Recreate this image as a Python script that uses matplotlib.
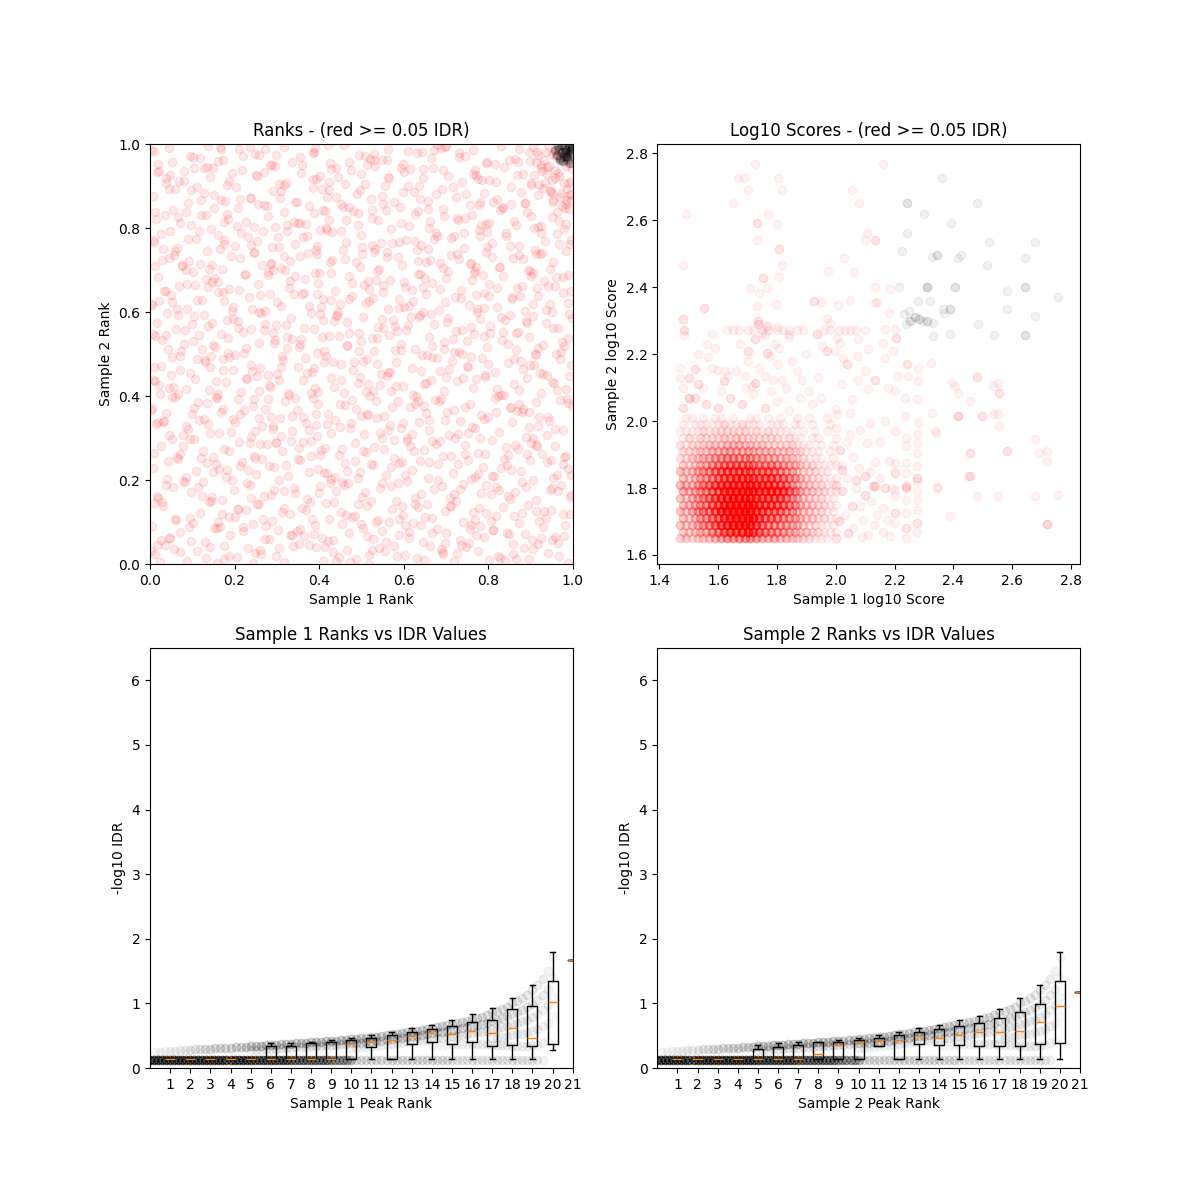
import numpy as np
import matplotlib
matplotlib.use("Agg")
import matplotlib.pyplot as plt

# ---------------------------------------------------------------------------
# Panel 1: normalised ranks (x = sample 1, y = sample 2), per-mille
# ---------------------------------------------------------------------------
rank1_red = [
    12, 87, 143, 205, 261, 318, 377, 432, 488, 541, 603, 662, 718, 775, 829, 884, 941, 990, 35, 112, 176, 233, 297, 352, 409, 466, 519, 578, 631, 690, 748, 802, 858, 917, 968, 57, 158, 249, 338, 447, 556, 647, 736, 823, 907, 24, 392, 694,
    5, 48, 71, 130, 166, 190, 244, 281, 302, 365, 390, 421, 470, 503, 527, 566, 590, 645, 679, 701, 733, 760, 791, 812, 850, 872, 903, 929, 957, 981, 98, 221, 335, 455, 612, 757, 888, 26, 274, 514, 623, 845, 966, 152, 408, 548,
    31, 62, 118, 139, 187, 226, 259, 288, 331, 359, 384, 417, 451, 479, 513, 534, 572, 598, 626, 668, 697, 724, 769, 796, 834, 861, 895, 921, 949, 994, 9, 94, 209, 313, 436, 590, 712, 818, 933, 162, 491, 650, 779, 977, 268,
    18, 55, 96, 125, 171, 199, 236, 270, 305, 342, 371, 403, 440, 468, 501, 545, 581, 607, 641, 673, 709, 741, 783, 819, 847, 879, 912, 946, 972, 997, 77, 147, 318, 425, 522, 690, 806, 951, 238, 586, 863, 16, 459, 734,
    8, 42, 84, 109, 155, 193, 217, 251, 293, 326, 356, 398, 427, 461, 496, 528, 559, 596, 620, 657, 682, 716, 752, 787, 814, 845, 877, 906, 938, 962, 989, 66, 180, 281, 377, 485, 604, 728, 853, 954, 135, 412, 571, 770, 898, 233,
    25, 70, 103, 148, 175, 211, 247, 276, 312, 349, 380, 414, 446, 484, 510, 549, 577, 616, 648, 686, 711, 746, 777, 808, 838, 870, 901, 927, 958, 985, 52, 186, 299, 402, 531, 668, 792, 913, 121, 363, 625, 842, 980, 260, 455,
    14, 46, 91, 127, 163, 202, 238, 266, 307, 336, 368, 395, 437, 474, 506, 538, 568, 609, 637, 661, 699, 729, 762, 799, 826, 856, 889, 919, 944, 976, 79, 196, 291, 419, 545, 660, 781, 896, 33, 248, 476, 707, 920, 593, 143, 392,
    4, 58, 99, 134, 169, 207, 243, 287, 319, 347, 386, 420, 449, 488, 521, 553, 586, 614, 652, 689, 720, 756, 784, 817, 852, 881, 914, 942, 970, 998, 38, 156, 271, 397, 516, 634, 744, 868, 987, 213, 462, 675, 896, 113, 335, 573,
    21, 66, 107, 140, 179, 215, 252, 284, 329, 361, 390, 428, 458, 492, 527, 560, 598, 630, 664, 695, 727, 765, 792, 831, 860, 893, 925, 955, 983, 49, 160, 304, 436, 571, 701, 824, 950, 86, 230, 380, 543, 741, 874, 12, 510, 648,
    10, 53, 95, 131, 172, 200, 239, 279, 315, 351, 383, 416, 452, 481, 514, 547, 583, 619, 655, 687, 714, 749, 786, 815, 848, 882, 910, 939, 969, 995, 71, 188, 309, 433, 562, 678, 800, 929, 145, 260, 505, 640, 861, 26, 372, 759,
    29, 74, 115, 150, 184, 222, 257, 292, 325, 357, 396, 424, 466, 499, 531, 565, 593, 628, 659, 696, 731, 767, 797, 833, 866, 897, 930, 961, 990, 43, 167, 294, 411, 537, 668, 789, 912, 101, 228, 446, 580, 716, 846, 972, 6, 353,
    17, 61, 104, 138, 181, 219, 262, 297, 333, 364, 401, 435, 471, 503, 540, 575, 606, 639, 672, 706, 738, 773, 805, 840, 871, 906, 936, 965, 992, 82, 196, 322, 443, 584, 703, 830, 953, 40, 273, 494, 618, 760, 889, 128, 387, 549,
    3, 50, 88, 122, 161, 197, 234, 273, 300, 340, 375, 409, 445, 478, 512, 550, 589, 622, 653, 684, 722, 754, 790, 822, 857, 888, 918, 947, 978, 64, 175, 283, 405, 528, 646, 772, 905, 997, 242, 470, 612, 803, 936, 110, 359, 698,
    20, 68, 101, 146, 186, 224, 255, 291, 328, 366, 399, 438, 470, 507, 536, 567, 603, 635, 667, 700, 735, 766, 801, 836, 867, 899, 931, 959, 988, 39, 152, 278, 398, 519, 639, 762, 880, 976, 211, 427, 600, 787, 915, 84, 330, 552,
    11, 57, 93, 136, 170, 212, 246, 286, 320, 354, 392, 426, 462, 496, 529, 561, 597, 631, 663, 693, 726, 759, 794, 826, 859, 894, 922, 954, 985, 76, 191, 311, 431, 560, 686, 808, 947, 30, 265, 502, 634, 771, 873, 118, 373, 730,
    27, 63, 108, 144, 176, 216, 253, 289, 323, 361, 394, 430, 464, 500, 533, 570, 605, 641, 676, 712, 743, 778, 810, 843, 874, 908, 935, 963, 993, 47, 165, 303, 418, 547, 679, 797, 924, 89, 238, 453, 590, 718, 852, 980, 7, 342,
    15, 54, 97, 133, 174, 209, 245, 280, 316, 350, 388, 423, 457, 493, 526, 558, 594, 627, 660, 694, 728, 761, 795, 828, 862, 893, 924, 952, 981, 72, 183, 296, 415, 539, 657, 784, 901, 963, 226, 481, 613, 746, 835, 968, 121, 369,
    6, 45, 90, 128, 167, 203, 240, 277, 310, 348, 385, 418, 453, 489, 523, 556, 591, 624, 658, 690, 725, 757, 789, 821, 855, 886, 917, 946, 975, 60, 178, 307, 423, 552, 676, 812, 930, 994, 256, 497, 639, 778, 877, 954, 112, 344,
    22, 69, 105, 141, 182, 218, 250, 288, 321, 358, 393, 429, 461, 498, 532, 566, 601, 636, 670, 705, 737, 770, 803, 837, 869, 901, 927, 957, 984, 80, 195, 318, 440, 564, 692, 818, 939, 37, 270, 508, 645, 776, 883, 990, 150, 402,
    9, 52, 94, 137, 173, 210, 248, 283, 317, 355, 389, 425, 459, 494, 530, 563, 598, 632, 665, 699, 732, 765, 798, 831, 864, 896, 926, 950, 44, 160, 299, 421, 548, 671, 794, 915, 118, 237, 470, 610, 745, 872, 20, 386, 520, 689,
    905, 918, 931, 944, 957, 968, 979, 987, 994, 912, 926, 939, 952, 963, 975, 990, 998, 921, 948, 971, 985, 936, 960, 983, 996, 909, 942, 966, 992, 954,
]
rank2_red = [
    23, 8, 41, 17, 33, 4, 46, 28, 12, 37, 21, 44, 6, 31, 15, 39, 26, 2, 45, 30, 11, 38, 19, 48, 7, 34, 22, 43, 14, 29, 40, 9, 25, 47, 18, 36, 3, 27, 42, 16, 32, 10, 46, 20, 35, 5, 41, 24,
    91, 62, 77, 53, 88, 70, 96, 59, 81, 67, 94, 55, 73, 86, 60, 99, 68, 52, 84, 75, 57, 93, 64, 80, 71, 98, 58, 87, 65, 92, 54, 79, 69, 95, 61, 83, 72, 56, 90, 66, 97, 74, 51, 85, 63, 78,
    137, 104, 122, 148, 111, 129, 143, 102, 118, 134, 107, 146, 125, 113, 139, 100, 131, 116, 144, 109, 127, 149, 105, 121, 136, 114, 141, 103, 128, 119, 145, 110, 132, 124, 147, 106, 138, 115, 126, 101, 142, 112, 133, 120, 108,
    158, 183, 171, 196, 152, 177, 189, 163, 199, 168, 155, 186, 174, 193, 160, 181, 150, 197, 166, 179, 157, 191, 170, 184, 162, 195, 153, 176, 188, 165, 198, 159, 173, 192, 151, 185, 167, 180, 156, 194, 172, 161, 187, 178,
    229, 246, 207, 221, 238, 201, 244, 215, 232, 209, 248, 226, 203, 240, 218, 235, 212, 243, 224, 205, 239, 217, 247, 230, 210, 236, 222, 200, 242, 213, 227, 249, 206, 234, 219, 245, 211, 237, 225, 204, 241, 216, 231, 208, 247, 223,
    281, 262, 297, 254, 273, 290, 258, 285, 269, 251, 294, 277, 260, 288, 266, 299, 253, 280, 271, 292, 257, 284, 265, 296, 250, 275, 289, 263, 282, 256, 298, 270, 287, 259, 278, 293, 261, 283, 252, 291, 268, 279, 255, 286, 274,
    334, 307, 321, 345, 313, 339, 302, 328, 348, 316, 336, 305, 342, 324, 310, 347, 331, 300, 338, 319, 343, 309, 326, 349, 314, 337, 303, 329, 341, 318, 306, 346, 322, 333, 311, 344, 301, 327, 340, 317, 335, 308, 349, 323, 312, 330,
    371, 398, 356, 384, 362, 393, 377, 351, 389, 366, 396, 358, 381, 369, 399, 353, 387, 374, 360, 392, 367, 382, 354, 395, 372, 363, 386, 350, 391, 376, 359, 397, 368, 380, 355, 388, 373, 364, 394, 357, 379, 390, 361, 385, 352, 375,
    427, 404, 441, 415, 433, 409, 448, 421, 402, 437, 418, 444, 406, 430, 413, 447, 424, 400, 439, 411, 435, 419, 446, 403, 428, 442, 408, 431, 416, 449, 405, 438, 422, 412, 445, 401, 434, 417, 440, 407, 426, 443, 414, 436, 410, 429,
    468, 493, 455, 481, 462, 497, 474, 451, 486, 470, 458, 495, 477, 463, 489, 453, 480, 466, 498, 459, 484, 472, 491, 456, 478, 465, 499, 450, 487, 473, 461, 494, 469, 482, 457, 490, 476, 452, 496, 467, 483, 460, 488, 471, 454, 492,
    533, 508, 546, 521, 539, 503, 527, 549, 514, 536, 502, 543, 518, 531, 507, 545, 524, 511, 540, 529, 505, 548, 516, 534, 510, 541, 522, 500, 537, 513, 547, 526, 506, 538, 519, 544, 501, 530, 515, 542, 509, 535, 523, 504, 547, 517,
    574, 559, 591, 566, 582, 553, 597, 570, 586, 561, 595, 578, 551, 589, 564, 580, 556, 593, 572, 585, 558, 599, 567, 581, 552, 590, 575, 563, 596, 557, 583, 569, 592, 554, 577, 587, 562, 598, 571, 550, 588, 565, 579, 594, 560, 584,
    618, 641, 606, 629, 647, 612, 636, 603, 624, 644, 615, 632, 600, 639, 621, 648, 609, 627, 643, 604, 635, 617, 646, 611, 631, 602, 638, 620, 645, 608, 626, 642, 613, 634, 601, 640, 619, 649, 607, 630, 614, 637, 605, 628, 644, 623,
    683, 661, 695, 672, 654, 688, 667, 699, 657, 679, 692, 651, 685, 664, 697, 676, 659, 690, 670, 681, 653, 694, 666, 686, 658, 698, 673, 662, 689, 650, 680, 696, 668, 655, 691, 677, 663, 684, 652, 693, 671, 687, 656, 699, 674, 665,
    709, 736, 721, 745, 703, 728, 740, 714, 701, 733, 748, 718, 726, 706, 742, 730, 711, 747, 723, 704, 737, 716, 744, 708, 729, 700, 739, 720, 746, 712, 734, 705, 725, 743, 717, 731, 702, 749, 713, 738, 722, 707, 735, 715, 741, 727,
    786, 752, 774, 798, 761, 789, 768, 755, 794, 779, 758, 791, 766, 783, 750, 797, 772, 760, 787, 776, 753, 795, 764, 781, 757, 799, 770, 785, 762, 792, 751, 778, 796, 765, 782, 754, 789, 773, 759, 793, 767, 780, 756, 798, 771, 763,
    821, 844, 806, 832, 815, 847, 803, 828, 839, 811, 836, 818, 849, 807, 825, 842, 813, 834, 801, 846, 820, 830, 809, 843, 816, 838, 804, 826, 848, 812, 833, 802, 840, 819, 845, 808, 829, 837, 814, 841, 805, 824, 847, 817, 831, 810,
    877, 893, 859, 884, 866, 898, 871, 853, 889, 862, 895, 874, 857, 881, 868, 899, 851, 886, 864, 892, 875, 855, 883, 869, 897, 860, 879, 887, 852, 894, 865, 872, 890, 856, 882, 863, 896, 878, 858, 891, 870, 854, 885, 867, 898, 861,
    936, 912, 944, 921, 903, 938, 927, 949, 908, 932, 916, 941, 905, 929, 947, 919, 934, 901, 943, 924, 910, 939, 915, 946, 926, 907, 935, 918, 948, 913, 930, 902, 942, 922, 937, 909, 945, 920, 933, 904, 940, 917, 928, 906, 944, 923,
    984, 958, 972, 996, 963, 989, 977, 951, 993, 968, 981, 955, 998, 974, 961, 987, 953, 979, 966, 992, 970, 985, 957, 995, 964, 982, 950, 976, 990, 959, 973, 997, 962, 986, 954, 980, 967, 994, 956, 983, 971, 988, 952, 978, 965, 991,
    992, 975, 961, 948, 937, 923, 908, 893, 880, 958, 944, 929, 915, 986, 970, 955, 941, 903, 889, 875, 866, 981, 969, 857, 912, 927, 998, 932, 846, 862,
]
rank1_red_b = [
    46, 133, 219, 305, 388, 472, 559, 641, 726, 812, 897, 979, 17, 101, 188, 272, 356, 441, 525, 612, 697, 781, 866, 951, 71, 158, 243, 330, 414, 500, 585, 668, 754, 840, 925, 3, 92, 176, 262, 347, 433, 518, 604, 688, 772, 859,
    28, 114, 201, 287, 369, 455, 540, 627, 709, 795, 881, 966, 59, 145, 230, 316, 399, 486, 571, 655, 741, 826, 912, 993, 83, 170, 254, 340, 424, 509, 596, 681, 765, 851, 936, 37, 122, 208, 293, 378, 463, 549, 634, 719, 806, 890,
    64, 150, 236, 321, 404, 491, 577, 660, 745, 831, 916, 997, 9, 95, 181, 266, 352, 437, 522, 607, 693, 777, 863, 948, 40, 126, 212, 297, 381, 467, 553, 638, 722, 808, 893, 978, 78, 163, 249, 334, 419, 505, 590, 676, 760, 846,
    19, 105, 192, 278, 363, 449, 534, 619, 703, 789, 874, 959, 51, 137, 223, 309, 393, 478, 563, 649, 734, 819, 905, 988, 86, 172, 258, 343, 428, 514, 599, 684, 769, 855, 940, 2, 117, 246, 375, 498, 628, 752, 883, 31, 158, 290,
    55, 141, 227, 312, 398, 483, 568, 652, 737, 822, 908, 992, 24, 110, 196, 281, 366, 452, 537, 622, 707, 792, 878, 963, 70, 156, 241, 327, 412, 497, 582, 667, 752, 837, 922, 6, 131, 259, 388, 515, 643, 771, 899, 44, 173, 301,
    38, 124, 209, 295, 380, 466, 551, 636, 720, 805, 891, 975, 67, 153, 238, 324, 409, 494, 579, 664, 749, 834, 919, 999, 13, 99, 185, 270, 355, 441, 526, 611, 696, 781, 866, 951, 80, 208, 337, 466, 594, 723, 851, 980, 147, 406,
    21, 107, 193, 279, 364, 450, 535, 620, 704, 790, 875, 960, 52, 138, 224, 310, 394, 479, 564, 650, 735, 820, 906, 989, 87, 173, 259, 344, 429, 515, 600, 685, 770, 856, 941, 4, 132, 261, 390, 517, 645, 774, 902, 33, 162, 588,
    60, 146, 232, 317, 402, 488, 573, 657, 742, 827, 913, 996, 29, 115, 201, 286, 371, 457, 542, 627, 712, 797, 883, 968, 75, 161, 246, 332, 417, 502, 587, 672, 757, 842, 927, 10, 139, 268, 396, 525, 653, 781, 910, 45, 176, 305,
    35, 121, 206, 292, 377, 463, 548, 633, 717, 802, 888, 972, 66, 152, 237, 323, 408, 493, 578, 663, 748, 833, 918, 997, 12, 98, 184, 269, 354, 440, 525, 610, 695, 780, 865, 950, 84, 212, 341, 470, 598, 727, 855, 983, 151, 410,
    16, 102, 188, 273, 359, 444, 530, 615, 700, 785, 871, 956, 48, 134, 219, 305, 390, 475, 561, 646, 731, 816, 902, 987, 81, 166, 252, 337, 423, 508, 593, 679, 764, 849, 935, 3, 128, 257, 386, 514, 643, 771, 900, 39, 167, 296,
]
rank2_red_b = [
    62, 15, 88, 37, 71, 4, 53, 94, 26, 80, 11, 67, 45, 98, 20, 59, 83, 7, 34, 76, 49, 91, 13, 57, 29, 85, 2, 68, 40, 96, 18, 74, 51, 9, 63, 32, 87, 44, 23, 79, 56, 1, 92, 36, 70, 48,
    147, 183, 112, 165, 129, 196, 104, 158, 137, 189, 121, 174, 108, 151, 192, 133, 168, 115, 186, 142, 101, 177, 126, 160, 195, 118, 144, 181, 106, 171, 139, 199, 123, 155, 110, 188, 163, 131, 176, 148, 117, 193, 135, 166, 102, 184,
    254, 218, 287, 236, 271, 205, 296, 243, 262, 229, 281, 212, 265, 298, 224, 251, 277, 208, 239, 292, 258, 215, 284, 247, 202, 268, 233, 290, 256, 221, 275, 245, 299, 210, 263, 238, 280, 226, 252, 294, 217, 270, 241, 286, 203, 259,
    338, 372, 315, 394, 351, 326, 387, 309, 361, 345, 380, 322, 398, 333, 367, 304, 356, 391, 318, 377, 341, 363, 300, 384, 329, 370, 347, 396, 312, 358, 335, 389, 324, 375, 306, 366, 342, 392, 320, 353, 382, 311, 369, 337, 395, 328,
    421, 468, 443, 495, 410, 482, 456, 431, 499, 417, 473, 448, 405, 488, 462, 426, 491, 439, 477, 402, 465, 451, 484, 414, 496, 435, 459, 408, 480, 446, 424, 493, 470, 402, 455, 438, 486, 412, 467, 429, 498, 441, 475, 419, 489, 452,
    546, 512, 579, 534, 597, 521, 563, 588, 505, 551, 574, 528, 593, 517, 559, 540, 582, 508, 566, 595, 531, 553, 515, 586, 544, 571, 502, 558, 525, 590, 537, 569, 511, 583, 549, 599, 523, 562, 536, 577, 509, 555, 594, 519, 573, 541,
    627, 664, 603, 689, 645, 618, 676, 652, 697, 609, 638, 683, 624, 659, 691, 615, 642, 670, 606, 681, 633, 657, 694, 621, 667, 648, 600, 686, 629, 673, 612, 654, 698, 636, 662, 617, 679, 641, 693, 626, 660, 608, 685, 650, 671, 631,
    745, 712, 778, 733, 796, 719, 764, 751, 788, 706, 739, 772, 724, 793, 757, 716, 781, 748, 702, 769, 735, 790, 727, 762, 709, 784, 743, 721, 799, 755, 730, 775, 714, 787, 741, 766, 703, 794, 737, 759, 718, 782, 747, 728, 771, 754,
    831, 867, 804, 889, 852, 818, 876, 841, 898, 812, 859, 884, 826, 847, 871, 808, 893, 835, 862, 817, 880, 849, 803, 866, 838, 891, 822, 855, 813, 874, 844, 899, 828, 861, 806, 883, 837, 869, 815, 850, 886, 824, 857, 810, 878, 843,
    933, 968, 912, 987, 949, 921, 976, 940, 995, 915, 958, 982, 927, 946, 972, 905, 990, 938, 961, 918, 979, 952, 902, 966, 935, 993, 924, 956, 910, 971, 944, 998, 929, 963, 908, 985, 942, 974, 916, 951, 981, 926, 959, 907, 988, 947,
]
# peaks that pass the IDR threshold (black)
rank1_pass = [962, 968, 974, 979, 983, 987, 991, 995, 998, 971, 977, 985, 989, 993, 997, 981, 966, 975, 986, 994, 980, 988, 958, 970, 999]
rank2_pass = [975, 988, 981, 993, 986, 978, 992, 984, 997, 966, 959, 971, 963, 976, 989, 982, 995, 998, 968, 955, 972, 999, 985, 962, 991]

# ---------------------------------------------------------------------------
# Panel 2: log10 scores. Dense core: peak counts per score cell
# ---------------------------------------------------------------------------
core_x_even = [1.47, 1.49, 1.51, 1.53, 1.55, 1.57, 1.59, 1.61, 1.63, 1.65, 1.67, 1.69, 1.71, 1.73, 1.75, 1.77, 1.79, 1.81, 1.83, 1.85, 1.87, 1.89, 1.91, 1.93, 1.95, 1.97, 1.99]
core_x_odd = [1.48, 1.50, 1.52, 1.54, 1.56, 1.58, 1.60, 1.62, 1.64, 1.66, 1.68, 1.70, 1.72, 1.74, 1.76, 1.78, 1.80, 1.82, 1.84, 1.86, 1.88, 1.90, 1.92, 1.94, 1.96, 1.98, 2.00]
core_y = [1.65, 1.67, 1.69, 1.71, 1.73, 1.75, 1.77, 1.79, 1.81, 1.83, 1.85, 1.87, 1.89, 1.91, 1.93, 1.95, 1.97, 1.99, 2.01]
core_n = [
    [3, 3, 2, 3, 3, 4, 5, 6, 7, 7, 8, 8, 7, 6, 5, 5, 5, 4, 4, 3, 3, 2, 2, 1, 1, 1, 0],
    [3, 3, 3, 4, 5, 7, 9, 12, 15, 17, 18, 18, 15, 12, 9, 8, 7, 6, 5, 4, 3, 3, 2, 2, 1, 1, 1],
    [4, 3, 4, 5, 7, 9, 12, 16, 20, 23, 25, 24, 20, 15, 11, 9, 8, 7, 6, 5, 4, 3, 2, 2, 1, 1, 1],
    [4, 3, 4, 6, 8, 10, 13, 17, 21, 25, 27, 25, 21, 16, 12, 11, 10, 8, 7, 5, 4, 3, 3, 2, 2, 1, 1],
    [4, 3, 5, 6, 8, 10, 14, 18, 22, 25, 26, 25, 21, 17, 14, 12, 11, 10, 8, 6, 4, 3, 3, 2, 2, 1, 1],
    [4, 4, 5, 6, 8, 11, 14, 18, 22, 25, 25, 23, 20, 17, 15, 14, 13, 11, 9, 6, 4, 3, 3, 2, 2, 1, 1],
    [4, 3, 5, 6, 8, 11, 14, 18, 21, 23, 23, 21, 19, 17, 16, 16, 15, 14, 11, 7, 5, 3, 3, 2, 2, 1, 1],
    [5, 4, 5, 6, 8, 11, 13, 17, 20, 21, 21, 19, 18, 17, 17, 17, 17, 15, 11, 7, 5, 3, 3, 2, 2, 1, 1],
    [5, 4, 4, 6, 8, 10, 13, 16, 18, 19, 19, 18, 17, 17, 17, 17, 15, 13, 10, 6, 4, 3, 3, 2, 2, 1, 1],
    [4, 3, 4, 5, 7, 9, 12, 14, 16, 17, 17, 15, 14, 14, 14, 14, 12, 11, 8, 6, 4, 3, 2, 2, 1, 1, 1],
    [4, 3, 4, 5, 6, 8, 10, 12, 14, 14, 14, 13, 12, 11, 11, 11, 10, 8, 6, 5, 3, 2, 2, 2, 1, 1, 0],
    [3, 2, 3, 4, 5, 7, 8, 10, 11, 11, 11, 10, 9, 8, 8, 8, 7, 6, 5, 4, 3, 2, 2, 1, 1, 1, 1],
    [2, 2, 3, 3, 4, 5, 6, 7, 8, 8, 8, 7, 7, 6, 6, 5, 5, 4, 4, 3, 2, 2, 1, 1, 1, 0, 1],
    [2, 2, 2, 3, 3, 4, 4, 5, 5, 5, 5, 5, 4, 4, 4, 4, 3, 3, 3, 2, 2, 1, 1, 1, 0, 1, 0],
    [2, 1, 2, 2, 2, 3, 3, 3, 4, 4, 4, 3, 3, 3, 3, 2, 2, 2, 2, 2, 1, 1, 1, 0, 1, 0, 1],
    [1, 2, 1, 2, 2, 2, 2, 3, 2, 3, 3, 2, 2, 2, 2, 2, 2, 1, 2, 1, 1, 0, 1, 1, 0, 0, 1],
    [1, 1, 1, 1, 2, 1, 2, 2, 2, 2, 2, 2, 1, 2, 1, 2, 1, 1, 1, 1, 0, 1, 0, 1, 0, 1, 0],
    [1, 0, 1, 1, 1, 1, 1, 2, 1, 1, 2, 1, 1, 1, 0, 1, 1, 1, 0, 1, 1, 0, 1, 0, 0, 1, 0],
    [0, 1, 1, 0, 1, 0, 1, 1, 0, 1, 0, 0, 1, 1, 0, 1, 0, 1, 0, 0, 1, 0, 1, 0, 0, 1, 0],
]

# (sample1 log10 score, sample2 log10 score, number of peaks)
score_red_upper = [
    (1.725, 2.768, 1), (1.669, 2.726, 1), (1.688, 2.726, 1), (1.805, 2.726, 1), (1.700, 2.690, 1),
    (1.816, 2.690, 1), (1.649, 2.653, 1), (1.490, 2.620, 1), (1.731, 2.592, 2), (1.771, 2.620, 1),
    (1.799, 2.590, 1), (2.160, 2.768, 1), (2.054, 2.690, 1), (2.078, 2.653, 1), (2.105, 2.563, 1),
    (2.100, 2.540, 1), (2.133, 2.540, 2), (1.808, 2.514, 2), (1.816, 2.467, 1), (1.808, 2.430, 1),
    (1.731, 2.540, 1), (1.482, 2.467, 1), (2.029, 2.486, 1), (1.975, 2.449, 1), (2.063, 2.446, 1),
    (1.754, 2.427, 2), (1.708, 2.399, 1), (1.767, 2.399, 1), (1.740, 2.384, 1), (1.796, 2.349, 1),
    (1.731, 2.344, 1), (1.552, 2.339, 2), (2.133, 2.400, 1), (2.139, 2.356, 1), (1.926, 2.359, 2),
    (1.949, 2.356, 1), (2.009, 2.346, 1), (2.048, 2.361, 1), (2.185, 2.394, 1), (2.180, 2.324, 1),
    (1.481, 2.306, 2), (1.485, 2.271, 2), (1.485, 2.256, 1),
]
score_red_row227 = [
    (1.63, 2.271, 1), (1.65, 2.271, 1), (1.67, 2.271, 1), (1.70, 2.271, 1), (1.72, 2.271, 1),
    (1.75, 2.271, 1), (1.77, 2.271, 1), (1.80, 2.271, 1), (1.82, 2.271, 1), (1.84, 2.271, 1),
    (1.87, 2.271, 1), (1.89, 2.271, 1), (1.96, 2.271, 1), (1.98, 2.271, 1), (2.01, 2.271, 1),
    (2.03, 2.271, 1), (2.05, 2.271, 1), (2.07, 2.271, 1), (2.10, 2.271, 1),
]
score_red_mid = [
    (1.737, 2.300, 2), (1.737, 2.290, 2), (1.765, 2.284, 2), (1.800, 2.280, 1), (1.748, 2.264, 1),
    (1.759, 2.256, 1), (1.725, 2.244, 2), (1.840, 2.260, 1), (1.840, 2.250, 1), (1.580, 2.260, 1),
    (1.700, 2.210, 2), (1.674, 2.229, 1), (1.793, 2.229, 1), (1.807, 2.219, 1), (1.765, 2.204, 2),
    (1.776, 2.196, 1), (1.800, 2.170, 1), (1.563, 2.231, 1), (1.591, 2.219, 1), (1.521, 2.156, 2),
    (1.530, 2.110, 2), (1.564, 2.192, 1), (1.595, 2.154, 1), (1.623, 2.149, 1), (1.634, 2.134, 1),
    (1.690, 2.134, 1), (1.725, 2.114, 2), (1.714, 2.104, 1), (1.759, 2.134, 1), (1.787, 2.124, 1),
    (1.816, 2.124, 1), (1.867, 2.149, 1), (1.884, 2.124, 1), (1.940, 2.132, 1), (1.937, 2.261, 2),
    (1.969, 2.309, 1), (1.980, 2.294, 1), (2.003, 2.249, 1), (2.014, 2.234, 1), (1.952, 2.224, 1),
    (1.969, 2.209, 2), (1.997, 2.209, 1), (2.026, 2.190, 1), (2.037, 2.170, 2), (2.077, 2.244, 1),
    (2.110, 2.214, 1), (2.133, 2.352, 1), (2.201, 2.274, 1), (2.167, 2.274, 1), (2.204, 2.249, 2),
    (2.162, 2.234, 1), (2.196, 2.209, 1), (2.168, 2.190, 1), (2.241, 2.170, 2), (2.281, 2.160, 1),
    (2.324, 2.174, 1), (2.207, 2.134, 1), (2.247, 2.134, 1), (2.281, 2.120, 1), (2.077, 2.194, 1),
    (2.099, 2.149, 1), (2.077, 2.124, 1), (2.110, 2.095, 1), (2.133, 2.124, 2), (2.179, 2.100, 1),
    (2.201, 2.090, 1), (2.235, 2.070, 1), (2.275, 2.065, 1), (2.235, 2.015, 1), (2.280, 1.995, 1),
    (2.326, 2.025, 1), (2.020, 2.110, 1), (2.054, 2.065, 1), (2.048, 2.025, 1), (2.000, 2.035, 1),
    (2.006, 2.020, 1),
    (1.50, 2.07, 3), (1.48, 2.04, 2), (1.52, 2.07, 2), (1.56, 2.05, 2), (1.60, 2.04, 2),
    (1.64, 2.07, 2), (1.68, 2.05, 2), (1.72, 2.08, 1), (1.76, 2.04, 2), (1.80, 2.06, 1),
    (1.84, 2.03, 1), (1.88, 2.07, 1), (1.92, 2.05, 1), (1.55, 2.10, 1), (1.62, 2.12, 2),
    (1.66, 2.15, 1), (1.70, 2.18, 1), (1.74, 2.16, 1), (1.85, 2.18, 1), (1.90, 2.20, 1),
    (1.50, 2.13, 2), (1.48, 2.10, 1), (1.53, 2.20, 1), (1.58, 2.16, 1), (1.47, 2.16, 1),
    (1.47, 2.13, 1), (1.61, 2.09, 1), (1.69, 2.10, 1), (1.78, 2.09, 1), (1.83, 2.10, 1),
    (1.91, 2.09, 1), (1.95, 2.07, 1),
]
score_red_right = [
    (2.201, 1.970, 1), (2.201, 1.875, 1), (2.201, 1.845, 2), (2.201, 1.795, 1), (2.201, 1.775, 1),
    (2.201, 1.725, 2), (2.201, 1.695, 1), (2.238, 1.950, 1), (2.238, 1.925, 1), (2.238, 1.875, 1),
    (2.238, 1.845, 1), (2.238, 1.805, 2), (2.238, 1.800, 2), (2.238, 1.765, 1), (2.238, 1.725, 1),
    (2.238, 1.680, 2), (2.238, 1.650, 1), (2.278, 1.960, 1), (2.278, 1.935, 1), (2.278, 1.905, 1),
    (2.278, 1.865, 1), (2.278, 1.830, 2), (2.278, 1.820, 1), (2.278, 1.790, 1), (2.278, 1.765, 1),
    (2.278, 1.735, 1), (2.278, 1.695, 2), (2.278, 1.670, 1),
    (2.116, 1.994, 1), (2.167, 1.999, 1), (2.150, 1.939, 1), (2.133, 1.879, 1), (2.116, 1.849, 1),
    (2.167, 1.800, 2), (2.161, 1.740, 1), (2.133, 1.805, 2), (2.173, 1.705, 1), (2.184, 1.657, 1),
    (2.088, 1.655, 1), (2.127, 1.805, 2), (2.070, 1.825, 2), (2.020, 1.790, 2), (2.054, 1.745, 2),
    (2.093, 1.705, 1), (2.042, 1.665, 2), (2.082, 1.745, 1), (2.099, 1.835, 2), (2.059, 1.894, 1),
    (2.014, 1.914, 2), (2.037, 1.939, 1), (2.082, 1.974, 1), (2.020, 1.854, 2), (2.105, 1.934, 1),
    (2.010, 1.700, 2), (2.030, 1.720, 1), (2.060, 1.680, 1), (2.100, 1.780, 2), (2.120, 1.760, 1),
    (2.140, 1.720, 1), (2.000, 1.810, 2), (2.040, 1.830, 1), (2.080, 1.860, 1), (2.050, 1.960, 1),
    (2.000, 1.980, 1), (2.150, 1.830, 1), (2.110, 1.660, 1), (2.130, 1.690, 1), (2.160, 1.670, 1),
    (2.190, 1.800, 1), (2.180, 1.880, 1), (2.000, 1.650, 2), (2.020, 1.870, 1), (2.070, 1.800, 1),
    (2.406, 2.104, 1), (2.417, 2.085, 1), (2.394, 2.117, 1), (2.479, 2.133, 2), (2.536, 2.104, 1),
    (2.553, 2.114, 1), (2.555, 2.085, 2), (2.456, 2.060, 1), (2.417, 2.015, 2), (2.496, 2.015, 2),
    (2.540, 2.020, 1), (2.553, 2.020, 1), (2.556, 1.985, 1), (2.342, 1.965, 1), (2.456, 1.905, 2),
    (2.584, 1.912, 2), (2.678, 1.947, 1), (2.692, 1.905, 1), (2.720, 1.912, 1), (2.720, 1.880, 1),
    (2.456, 1.835, 2), (2.346, 1.800, 1), (2.479, 1.777, 1), (2.553, 1.777, 1), (2.678, 1.777, 1),
    (2.757, 1.780, 1), (2.720, 1.693, 3), (2.390, 1.716, 1), (2.337, 1.970, 1), (2.343, 1.803, 1),
    (2.450, 1.837, 1), (2.417, 2.014, 1),
]
score_pass = [
    (2.244, 2.653, 2), (2.244, 2.563, 1), (2.301, 2.620, 1), (2.363, 2.725, 1), (2.479, 2.653, 1),
    (2.391, 2.592, 1), (2.225, 2.509, 1), (2.326, 2.490, 1), (2.346, 2.495, 2), (2.417, 2.488, 1),
    (2.425, 2.495, 1), (2.522, 2.534, 1), (2.513, 2.467, 1), (2.644, 2.488, 1), (2.678, 2.534, 1),
    (2.216, 2.400, 1), (2.309, 2.400, 3), (2.406, 2.400, 2), (2.644, 2.400, 2), (2.582, 2.389, 1),
    (2.757, 2.371, 1), (2.232, 2.320, 1), (2.248, 2.330, 1), (2.252, 2.300, 2), (2.270, 2.310, 2),
    (2.284, 2.305, 2), (2.298, 2.300, 1), (2.310, 2.298, 2), (2.330, 2.292, 1), (2.280, 2.360, 1),
    (2.320, 2.360, 1), (2.366, 2.336, 1), (2.370, 2.324, 1), (2.390, 2.336, 2), (2.582, 2.336, 1),
    (2.678, 2.314, 1), (2.390, 2.261, 1), (2.330, 2.254, 1), (2.540, 2.257, 1), (2.644, 2.257, 2),
    (2.485, 2.290, 1), (2.240, 2.290, 1),
]

# ---------------------------------------------------------------------------
# Panels 3/4: -log10 IDR against binned peak rank
# ---------------------------------------------------------------------------
idr_floor_value = 0.13
# (binned rank, number of peaks sitting on the IDR floor)
idr_floor = [
    (0.0, 40), (0.2, 40), (0.4, 40), (0.6, 40), (0.8, 40), (1.0, 40), (1.2, 40), (1.4, 40), (1.6, 40), (1.8, 40),
    (2.0, 40), (2.2, 40), (2.4, 40), (2.6, 40), (2.8, 40), (3.0, 40), (3.2, 40), (3.4, 40), (3.6, 40), (3.8, 40),
    (4.0, 40), (4.2, 40), (4.4, 40), (4.6, 40), (4.8, 40), (5.0, 36), (5.2, 36), (5.4, 36), (5.6, 36), (5.8, 36),
    (6.0, 36), (6.2, 36), (6.4, 36), (6.6, 36), (6.8, 36), (7.0, 30), (7.2, 30), (7.4, 30), (7.6, 30), (7.8, 30),
    (8.0, 30), (8.2, 30), (8.4, 30), (8.6, 30), (8.8, 30), (9.0, 22), (9.2, 22), (9.4, 22), (9.6, 22), (9.8, 22),
    (10.0, 16), (10.25, 8), (10.5, 8), (10.75, 8), (11.0, 8), (11.25, 8), (11.5, 8), (11.75, 8), (12.0, 8), (12.25, 8),
    (12.5, 8), (12.75, 8), (13.0, 8), (13.25, 8), (13.5, 8), (13.75, 8), (14.0, 8), (14.25, 8), (14.5, 8), (14.75, 8),
    (15.0, 6), (15.25, 6), (15.5, 6), (15.75, 6), (16.0, 6), (16.25, 6), (16.5, 6), (16.75, 6), (17.0, 6), (17.25, 6),
    (17.5, 6), (17.75, 6), (18.0, 6), (18.25, 6), (18.5, 6), (18.75, 6), (19.0, 6), (19.25, 5), (19.5, 4),
]
# (binned rank, -log10 IDR, number of peaks) for the rising band
idr_band = [
    (0.25, 0.25, 3), (0.5, 0.255, 3), (0.75, 0.26, 3), (1.0, 0.265, 4), (1.25, 0.27, 4), (1.5, 0.275, 5),
    (1.75, 0.28, 5), (2.0, 0.285, 6), (2.25, 0.29, 6), (2.5, 0.295, 7), (2.75, 0.30, 8), (3.0, 0.30, 8),
    (3.25, 0.305, 9), (3.5, 0.31, 9), (3.75, 0.31, 9), (4.0, 0.315, 10), (4.25, 0.32, 10), (4.5, 0.325, 10),
    (4.75, 0.33, 11),
    (5.0, 0.335, 12), (5.0, 0.28, 4), (5.25, 0.34, 12), (5.25, 0.28, 4), (5.5, 0.345, 12), (5.5, 0.285, 4),
    (5.75, 0.35, 12), (5.75, 0.29, 4), (6.0, 0.355, 12), (6.0, 0.295, 5), (6.25, 0.36, 12), (6.25, 0.30, 5),
    (6.5, 0.365, 12), (6.5, 0.305, 5), (6.75, 0.37, 12), (6.75, 0.31, 5), (7.0, 0.375, 12), (7.0, 0.315, 5),
    (7.25, 0.38, 12), (7.25, 0.32, 5), (7.5, 0.385, 12), (7.5, 0.325, 5), (7.75, 0.39, 12), (7.75, 0.33, 5),
    (8.0, 0.40, 12), (8.0, 0.335, 6), (8.25, 0.405, 12), (8.25, 0.34, 6), (8.5, 0.41, 12), (8.5, 0.345, 6),
    (8.75, 0.415, 12), (8.75, 0.35, 6), (9.0, 0.42, 12), (9.0, 0.355, 6), (9.25, 0.425, 12), (9.25, 0.36, 6),
    (9.5, 0.43, 12), (9.5, 0.365, 6), (9.75, 0.44, 12), (9.75, 0.37, 6),
    (10.0, 0.45, 11), (10.0, 0.38, 8), (10.0, 0.31, 3), (10.25, 0.455, 11), (10.25, 0.385, 8), (10.25, 0.315, 3),
    (10.5, 0.46, 11), (10.5, 0.39, 8), (10.5, 0.32, 3), (10.75, 0.47, 11), (10.75, 0.40, 8), (10.75, 0.33, 3),
    (11.0, 0.48, 11), (11.0, 0.41, 8), (11.0, 0.34, 3), (11.25, 0.485, 11), (11.25, 0.415, 8), (11.25, 0.345, 3),
    (11.5, 0.495, 11), (11.5, 0.425, 8), (11.5, 0.35, 3), (11.75, 0.505, 11), (11.75, 0.435, 8), (11.75, 0.36, 3),
    (12.0, 0.52, 10), (12.0, 0.45, 8), (12.0, 0.37, 4), (12.25, 0.53, 10), (12.25, 0.46, 8), (12.25, 0.38, 4),
    (12.5, 0.54, 10), (12.5, 0.47, 8), (12.5, 0.39, 4), (12.75, 0.55, 10), (12.75, 0.475, 8), (12.75, 0.40, 4),
    (13.0, 0.565, 10), (13.0, 0.49, 8), (13.0, 0.41, 4), (13.25, 0.575, 10), (13.25, 0.50, 8), (13.25, 0.42, 4),
    (13.5, 0.59, 10), (13.5, 0.51, 8), (13.5, 0.43, 4), (13.75, 0.60, 10), (13.75, 0.52, 8), (13.75, 0.44, 4),
    (14.0, 0.62, 9), (14.0, 0.54, 8), (14.0, 0.45, 4), (14.0, 0.36, 2),
    (14.25, 0.63, 9), (14.25, 0.55, 8), (14.25, 0.46, 4), (14.25, 0.36, 2),
    (14.5, 0.645, 9), (14.5, 0.56, 8), (14.5, 0.47, 4), (14.5, 0.36, 2),
    (14.75, 0.66, 9), (14.75, 0.575, 8), (14.75, 0.48, 4), (14.75, 0.36, 2),
    (15.0, 0.68, 8), (15.0, 0.59, 7), (15.0, 0.49, 5), (15.0, 0.37, 3),
    (15.25, 0.69, 8), (15.25, 0.60, 7), (15.25, 0.50, 5), (15.25, 0.37, 3),
    (15.5, 0.71, 8), (15.5, 0.615, 7), (15.5, 0.51, 5), (15.5, 0.37, 3),
    (15.75, 0.73, 8), (15.75, 0.63, 7), (15.75, 0.52, 5), (15.75, 0.37, 3),
    (16.0, 0.76, 8), (16.0, 0.65, 7), (16.0, 0.54, 5), (16.0, 0.37, 4),
    (16.25, 0.775, 8), (16.25, 0.665, 7), (16.25, 0.55, 5), (16.25, 0.37, 4),
    (16.5, 0.79, 8), (16.5, 0.68, 7), (16.5, 0.56, 5), (16.5, 0.37, 4),
    (16.75, 0.82, 8), (16.75, 0.70, 7), (16.75, 0.575, 5), (16.75, 0.37, 4),
    (17.0, 0.86, 7), (17.0, 0.73, 7), (17.0, 0.60, 5), (17.0, 0.46, 4), (17.0, 0.35, 4),
    (17.25, 0.88, 7), (17.25, 0.75, 7), (17.25, 0.61, 5), (17.25, 0.47, 4), (17.25, 0.35, 4),
    (17.5, 0.91, 7), (17.5, 0.77, 7), (17.5, 0.63, 5), (17.5, 0.48, 4), (17.5, 0.35, 4),
    (17.75, 0.95, 7), (17.75, 0.80, 7), (17.75, 0.65, 5), (17.75, 0.49, 4), (17.75, 0.35, 4),
    (18.0, 1.00, 6), (18.0, 0.84, 6), (18.0, 0.68, 5), (18.0, 0.51, 4), (18.0, 0.34, 4),
    (18.25, 1.04, 6), (18.25, 0.87, 6), (18.25, 0.70, 5), (18.25, 0.52, 4), (18.25, 0.34, 4),
    (18.5, 1.08, 6), (18.5, 0.90, 6), (18.5, 0.72, 5), (18.5, 0.53, 4), (18.5, 0.34, 4),
    (18.75, 1.13, 6), (18.75, 0.94, 6), (18.75, 0.75, 5), (18.75, 0.55, 4), (18.75, 0.34, 4),
    (19.0, 1.20, 5), (19.0, 0.99, 5), (19.0, 0.79, 5), (19.0, 0.58, 4), (19.0, 0.35, 4),
    (19.25, 1.28, 5), (19.25, 1.05, 5), (19.25, 0.83, 4), (19.25, 0.61, 4), (19.25, 0.36, 3),
    (19.5, 1.38, 5), (19.5, 1.13, 5), (19.5, 0.89, 4), (19.5, 0.65, 4), (19.5, 0.38, 3),
    (19.75, 1.50, 4), (19.75, 1.23, 4), (19.75, 0.97, 4), (19.75, 0.70, 3), (19.75, 0.42, 2),
    (20.0, 1.72, 3), (20.0, 1.40, 3), (20.0, 1.10, 3), (20.0, 0.80, 2),
]

# box statistics per rank bin (21 bins)
s1_med = [0.134, 0.134, 0.134, 0.134, 0.134, 0.134, 0.134, 0.134, 0.134, 0.366, 0.41, 0.43, 0.495, 0.536, 0.52, 0.567, 0.536, 0.613, 0.464, 1.015, 1.665]
s1_q1 = [0.134, 0.134, 0.134, 0.134, 0.134, 0.134, 0.134, 0.134, 0.134, 0.134, 0.32, 0.134, 0.376, 0.40, 0.376, 0.40, 0.34, 0.35, 0.34, 0.366, 1.665]
s1_q3 = [0.134, 0.134, 0.134, 0.134, 0.134, 0.34, 0.34, 0.38, 0.41, 0.44, 0.47, 0.505, 0.55, 0.60, 0.65, 0.706, 0.737, 0.907, 0.954, 1.345, 1.665]
s1_lo = [0.134, 0.134, 0.134, 0.134, 0.134, 0.134, 0.134, 0.134, 0.134, 0.134, 0.134, 0.134, 0.134, 0.134, 0.134, 0.134, 0.134, 0.134, 0.134, 0.273, 1.665]
s1_hi = [0.134, 0.134, 0.134, 0.134, 0.134, 0.38, 0.39, 0.41, 0.44, 0.47, 0.505, 0.55, 0.62, 0.66, 0.74, 0.83, 0.93, 1.077, 1.29, 1.79, 1.665]

s2_med = [0.134, 0.134, 0.134, 0.134, 0.134, 0.134, 0.134, 0.21, 0.35, 0.41, 0.44, 0.44, 0.49, 0.464, 0.505, 0.55, 0.55, 0.58, 0.706, 0.954, 1.17]
s2_q1 = [0.134, 0.134, 0.134, 0.134, 0.134, 0.134, 0.134, 0.134, 0.134, 0.134, 0.34, 0.134, 0.366, 0.35, 0.35, 0.335, 0.335, 0.335, 0.366, 0.38, 1.17]
s2_q3 = [0.134, 0.134, 0.134, 0.134, 0.30, 0.32, 0.35, 0.40, 0.41, 0.44, 0.47, 0.505, 0.55, 0.60, 0.65, 0.69, 0.77, 0.86, 0.985, 1.345, 1.17]
s2_lo = [0.134, 0.134, 0.134, 0.134, 0.134, 0.134, 0.134, 0.134, 0.134, 0.134, 0.34, 0.134, 0.134, 0.134, 0.134, 0.134, 0.134, 0.134, 0.134, 0.134, 1.17]
s2_hi = [0.134, 0.134, 0.134, 0.134, 0.35, 0.38, 0.40, 0.41, 0.44, 0.47, 0.505, 0.55, 0.62, 0.66, 0.74, 0.81, 0.91, 1.09, 1.28, 1.79, 1.17]

soft_idr_threshold = 0.05


def expand(points):
    arr = np.array(points, dtype=float)
    n = arr[:, 2].astype(int)
    return np.repeat(arr[:, 0], n), np.repeat(arr[:, 1], n)


fig = plt.figure(figsize=(12, 12), dpi=100)

# Ranks
ax = fig.add_subplot(221)
n_a = min(len(rank1_red), len(rank2_red))
n_b = min(len(rank1_red_b), len(rank2_red_b))
rx = np.concatenate([rank1_red[:n_a], rank1_red_b[:n_b]]) / 1000.0
ry = np.concatenate([rank2_red[:n_a], rank2_red_b[:n_b]]) / 1000.0
ax.scatter(rx, ry, c="red", edgecolor="red", alpha=0.09)
bx = np.repeat(np.array(rank1_pass) / 1000.0, 3)
by = np.repeat(np.array(rank2_pass) / 1000.0, 3)
ax.scatter(bx, by, c="black", edgecolor="black", alpha=0.07)
ax.axis([0, 1, 0, 1])
ax.set_xlabel("Sample 1 Rank")
ax.set_ylabel("Sample 2 Rank")
ax.set_title("Ranks - (red >= %.2f IDR)" % soft_idr_threshold)

# Log10 scores
ax = fig.add_subplot(222)
cx, cy, cn = [], [], []
for j, yv in enumerate(core_y):
    cols = core_x_even if j % 2 == 0 else core_x_odd
    for xv, cnt in zip(cols, core_n[j]):
        cx.append(xv); cy.append(yv); cn.append(cnt)
red_x = [np.repeat(np.array(cx), cn)]
red_y = [np.repeat(np.array(cy), cn)]
for group in (score_red_upper, score_red_row227, score_red_mid, score_red_right):
    gx, gy = expand(group)
    red_x.append(gx); red_y.append(gy)
red_x = np.concatenate(red_x); red_y = np.concatenate(red_y)
ax.scatter(red_x, red_y, c="red", edgecolor="red", alpha=0.05)
px, py = expand(score_pass)
ax.scatter(px, py, c="black", edgecolor="black", alpha=0.05)
ax.set_xlim(1.393, 2.831)
ax.set_ylim(1.573, 2.828)
ax.set_xlabel("Sample 1 log10 Score")
ax.set_ylabel("Sample 2 log10 Score")
ax.set_title("Log10 Scores - (red >= %.2f IDR)" % soft_idr_threshold)

# IDR vs rank
floor_arr = np.array(idr_floor, dtype=float)
fx = np.repeat(floor_arr[:, 0], floor_arr[:, 1].astype(int))
fy = np.full(fx.shape, idr_floor_value)
bandx, bandy = expand(idr_band)
sc_x = np.concatenate([fx, bandx])
sc_y = np.concatenate([fy, bandy])

box_sets = [
    (s1_med, s1_q1, s1_q3, s1_lo, s1_hi),
    (s2_med, s2_q1, s2_q3, s2_lo, s2_hi),
]
for k, (med, q1, q3, lo, hi) in enumerate(box_sets):
    ax = fig.add_subplot(2, 2, 3 + k)
    stats = []
    for i in range(len(med)):
        stats.append({"med": med[i], "q1": q1[i], "q3": q3[i],
                      "whislo": lo[i], "whishi": hi[i], "fliers": [],
                      "label": str(i + 1)})
    ax.bxp(stats, positions=list(range(1, len(med) + 1)), widths=0.5,
           showfliers=False)
    ax.scatter(sc_x, sc_y, alpha=0.01, c="black")
    ax.axis([0, 21, 0, 6.5])
    ax.set_title("Sample %i Ranks vs IDR Values" % (k + 1))
    ax.set_xlabel("Sample %i Peak Rank" % (k + 1))
    ax.set_ylabel("-log10 IDR")

plt.savefig("out.png", dpi=100)
